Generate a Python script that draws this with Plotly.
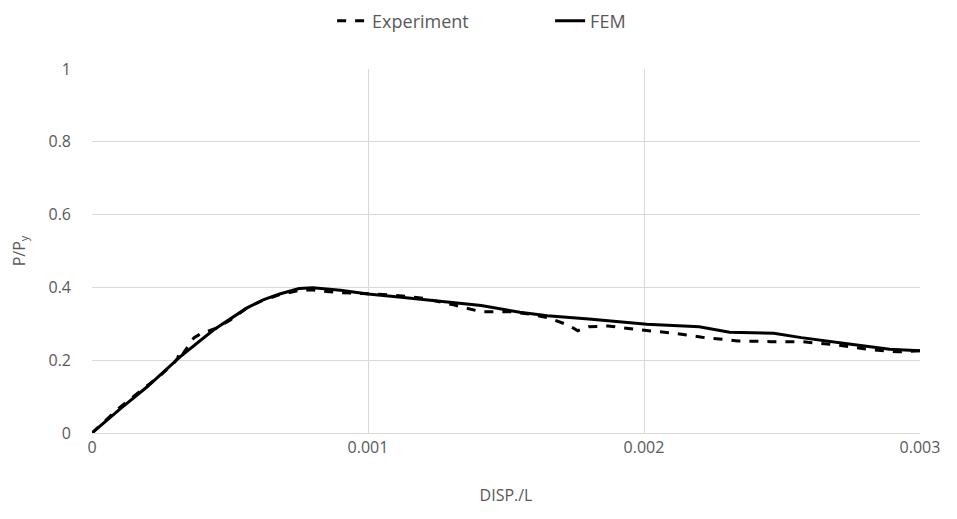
import plotly.graph_objects as go

exp_x = [0, 0.00005, 0.0001, 0.00015, 0.0002, 0.00025, 0.00030, 0.00031, 0.00032, 0.00033, 0.00037, 0.00040, 0.00042,
         0.00045, 0.0005, 0.00056, 0.00062, 0.00068, 0.00075, 0.00080, 0.00085, 0.00091, 0.00096, 0.00103, 0.00109,
         0.00120, 0.00131, 0.00141, 0.00152, 0.00160, 0.00166, 0.00173, 0.00176, 0.00180, 0.00187, 0.00199,
         0.00211, 0.00221, 0.00234, 0.00246, 0.00257, 0.00270, 0.00281, 0.00292, 0.003]
exp_y = [0, 0.035, 0.07, 0.1, 0.13, 0.16, 0.195, 0.205, 0.228, 0.218, 0.262, 0.275, 0.28,
         0.288, 0.31, 0.343, 0.365, 0.38, 0.392, 0.393, 0.389, 0.385, 0.384, 0.381, 0.379,
         0.37, 0.352, 0.333, 0.333, 0.325, 0.315, 0.295, 0.281, 0.292, 0.294, 0.283,
         0.274, 0.263, 0.253, 0.251, 0.251, 0.242, 0.23, 0.223, 0.226]

fem_x = [0, 0.0001, 0.0002, 0.00032, 0.00044, 0.00056, 0.00062, 0.00068, 0.00075, 0.0008, 0.0009, 0.001,
         0.00112, 0.00125, 0.00141, 0.00155, 0.00165, 0.0018, 0.00201, 0.0022, 0.00231, 0.00247, 0.00257,
         0.00275, 0.00289, 0.003]
fem_y = [0, 0.065, 0.127, 0.21, 0.283, 0.343, 0.366, 0.382, 0.397, 0.399, 0.392, 0.382,
         0.373, 0.363, 0.35, 0.332, 0.322, 0.313, 0.299, 0.292, 0.277, 0.274, 0.262,
         0.244, 0.23, 0.226]

x_ticks = [0, 0.001, 0.002, 0.003]
x_labels = ["0", "0.001", "0.002", "0.003"]
y_ticks = [0, 0.2, 0.4, 0.6, 0.8, 1]
y_labels = ["0", "0.2", "0.4", "0.6", "0.8", "1"]

fig = go.Figure()
fig.add_trace(go.Scatter(x=exp_x, y=exp_y, mode="lines", name="Experiment",
                         line=dict(color="black", width=3, dash="dash")))
fig.add_trace(go.Scatter(x=fem_x, y=fem_y, mode="lines", name="FEM",
                         line=dict(color="black", width=3)))

font = dict(family="Open Sans, Liberation Sans, sans-serif", size=15, color="#595959")
fig.update_layout(
    width=957, height=519,
    margin=dict(l=84, r=45, t=61, b=94),
    paper_bgcolor="white", plot_bgcolor="white",
    font=font,
    showlegend=True,
    legend=dict(orientation="h", x=0.29, xanchor="left", y=0.975, yanchor="middle",
                yref="container", font=dict(size=18, color="#595959"),
                entrywidth=173, entrywidthmode="pixels"),
    xaxis=dict(range=[0, 0.003], tickvals=x_ticks, ticktext=x_labels, showgrid=True,
               gridcolor="#d9d9d9", gridwidth=1, zeroline=False, showline=True,
               linecolor="#d9d9d9", ticks="", ticklabelstandoff=0, automargin=False,
               title=dict(text="DISP./L", font=dict(size=16), standoff=32),
               tickfont=dict(size=16)),
    yaxis=dict(range=[0, 1], tickvals=y_ticks, ticktext=y_labels, showgrid=True,
               gridcolor="#d9d9d9", gridwidth=1, zeroline=False, showline=False,
               ticks="", ticklabelstandoff=20, automargin=False,
               title=dict(text="P/P<sub>y</sub>", font=dict(size=16), standoff=24),
               tickfont=dict(size=16)),
)
fig.write_html("out.html")
